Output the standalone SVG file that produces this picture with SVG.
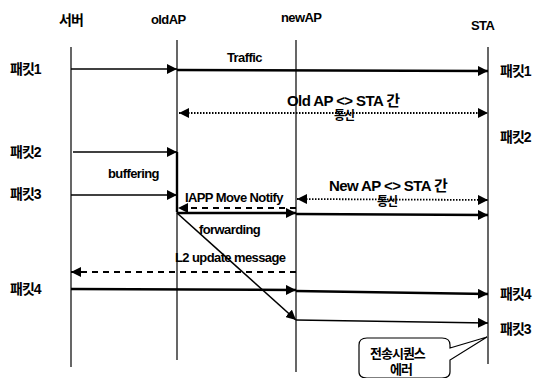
<svg xmlns="http://www.w3.org/2000/svg" width="543" height="378" viewBox="0 0 543 378">
<defs>
<marker id="ah" viewBox="0 0 10 10" refX="10" refY="5" markerWidth="10" markerHeight="10" markerUnits="userSpaceOnUse" orient="auto"><path d="M0,0 L10,5 L0,10 Z" fill="#000"/></marker>
<marker id="ahs" viewBox="0 0 10 10" refX="0" refY="5" markerWidth="10" markerHeight="10" markerUnits="userSpaceOnUse" orient="auto"><path d="M10,0 L0,5 L10,10 Z" fill="#000"/></marker>
</defs>
<style>
.t{font-family:"Liberation Sans","Noto Sans CJK KR",sans-serif;font-weight:bold;font-size:13px;fill:#000;letter-spacing:-0.6px}
.k{font-family:"Liberation Sans","Noto Sans CJK KR",sans-serif;font-weight:bold;font-size:14px;fill:#000;letter-spacing:-1px}
.life{stroke:#000;stroke-width:1.2;fill:none}
.sol{stroke:#000;stroke-width:1.6;fill:none}
.thk{stroke:#000;stroke-width:2.4;fill:none}
.dot{stroke:#000;stroke-width:1.8;stroke-dasharray:1.5 1.5;fill:none}
.dash{stroke:#000;stroke-width:1.8;stroke-dasharray:6 5;fill:none}
</style>
<rect width="543" height="378" fill="#fff"/>
<g id="server"><line class="life" x1="71" y1="47" x2="71" y2="367"/><text class="k" x="59" y="25">서버</text></g>
<g id="oldAP"><line class="life" x1="177" y1="40" x2="177" y2="360"/><text class="t" x="151" y="24">oldAP</text></g>
<g id="newAP"><line class="life" x1="296" y1="40" x2="296" y2="372"/><text class="t" x="281" y="22">newAP</text></g>
<g id="STA"><line class="life" x1="488" y1="47" x2="488" y2="364"/><text class="t" x="471" y="30">STA</text></g>
<g id="labels">
<text class="k" x="10" y="74">패킷1</text>
<text class="k" x="500" y="76">패킷1</text>
<text class="k" x="10" y="157">패킷2</text>
<text class="k" x="500" y="142">패킷2</text>
<text class="k" x="10" y="199">패킷3</text>
<text class="k" x="10" y="294">패킷4</text>
<text class="k" x="500" y="299">패킷4</text>
<text class="k" x="500" y="334">패킷3</text>
<text class="t" x="227" y="62">Traffic</text>
<text class="t" x="287" y="106" style="font-size:15px">Old AP &lt;&gt; STA 간</text>
<text class="k" x="334" y="120" style="font-size:12px">통신</text>
<text class="t" x="108" y="178">buffering</text>
<text class="t" x="185" y="202">IAPP Move Notify</text>
<text class="t" x="329" y="191" style="font-size:15px">New AP &lt;&gt; STA 간</text>
<text class="k" x="377" y="206" style="font-size:12px">통신</text>
<text class="t" x="199" y="234">forwarding</text>
<text class="t" x="175" y="262">L2 update message</text>
</g>
<g id="connectors">
<line class="sol" x1="71" y1="69" x2="177" y2="69" marker-end="url(#ah)"/>
<line class="thk" x1="177" y1="70" x2="488" y2="71" marker-end="url(#ah)"/>
<line class="dot" x1="179" y1="113" x2="488" y2="113" marker-start="url(#ahs)" marker-end="url(#ah)"/>
<line class="sol" x1="73" y1="152" x2="177" y2="152" marker-end="url(#ah)"/>
<line class="thk" x1="177" y1="152" x2="177" y2="212"/>
<line class="sol" x1="71" y1="195" x2="177" y2="195" marker-end="url(#ah)"/>
<line class="dash" x1="296" y1="208" x2="178" y2="208" marker-end="url(#ah)"/>
<line class="dot" x1="297" y1="199" x2="488" y2="200" marker-start="url(#ahs)" marker-end="url(#ah)"/>
<line class="thk" x1="177" y1="213" x2="296" y2="213" marker-end="url(#ah)"/>
<line class="thk" x1="296" y1="214" x2="488" y2="215" marker-end="url(#ah)"/>
<line class="sol" x1="177" y1="213" x2="296" y2="320" marker-end="url(#ah)"/>
<line class="sol" x1="296" y1="320" x2="488" y2="323" marker-end="url(#ah)"/>
<line class="dash" x1="296" y1="272" x2="71" y2="272" marker-end="url(#ah)"/>
<line class="thk" x1="71" y1="289" x2="296" y2="290" marker-end="url(#ah)"/>
<line class="thk" x1="296" y1="291" x2="488" y2="294" marker-end="url(#ah)"/>
</g>
<g id="callout">
<path d="M367,338 H442 Q450,338 450,345 V348 L487,337 L450,360 V372 Q450,378 442,378 H367 Q359,378 359,372 V345 Q359,338 367,338 Z" fill="#fff" stroke="#000" stroke-width="1.2"/>
<text class="k" x="370" y="358" style="font-size:13px">전송시퀀스</text>
<text class="k" x="390" y="374" style="font-size:13px">에러</text>
</g>
</svg>
